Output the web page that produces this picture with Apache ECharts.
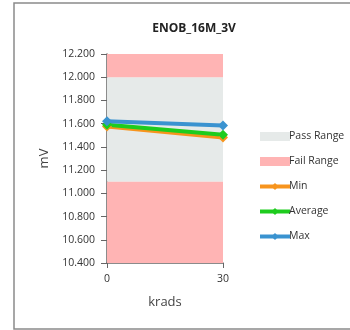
<!DOCTYPE html>
<html><head><meta charset="utf-8">
<script src="https://cdn.jsdelivr.net/npm/echarts@6/dist/echarts.min.js"></script>
<style>html,body{margin:0;padding:0;background:#fff}#c{width:350px;height:330px}</style>
</head><body><div id="c"></div>
<script>
var xValues = [0, 30];
var minVals = [11.575, 11.48];
var avgVals = [11.59, 11.505];
var maxVals = [11.62, 11.585];
var passBand = [11.1, 12.0];
var failBands = [[12.0, 12.2], [10.4, 11.1]];
var yTicks = {min: 10.4, max: 12.2, step: 0.2};

function pts(v){ return xValues.map(function(x,i){ return [x, v[i]]; }); }
var font = '"Open Sans", "Noto Sans", sans-serif';
var chart = echarts.init(document.getElementById('c'));
function lineSeries(name, data, color){
  return {name: name, type: 'line', data: pts(data), symbol: 'diamond', symbolSize: 10,
    lineStyle: {color: color, width: 4}, itemStyle: {color: color}, z: 5};
}
chart.setOption({
  animation: false,
  graphic: [{type: 'rect', shape: {x: 14, y: 3, width: 340, height: 326},
    style: {fill: 'none', stroke: '#8a8a8a', lineWidth: 1.5}, z: -10}],
  title: {text: 'ENOB_16M_3V', left: 189, top: 18, textAlign: 'center',
    textStyle: {fontSize: 12, fontWeight: 'bold', color: '#222', fontFamily: font}},
  grid: {left: 107, right: 127, top: 54, bottom: 67},
  xAxis: {type: 'value', min: xValues[0], max: xValues[1], interval: 30,
    name: 'krads', nameLocation: 'middle', nameGap: 33,
    nameTextStyle: {fontSize: 13, color: '#444', fontFamily: font},
    axisLine: {lineStyle: {color: '#666', width: 1.5}},
    axisTick: {show: true, length: 5, lineStyle: {color: '#666'}},
    splitLine: {show: false},
    axisLabel: {fontSize: 10.5, color: '#333', margin: 11, fontFamily: font}},
  yAxis: {type: 'value', min: yTicks.min, max: yTicks.max, interval: yTicks.step,
    name: 'mV', nameLocation: 'middle', nameGap: 56, nameRotate: 90,
    nameTextStyle: {fontSize: 13, color: '#444', fontFamily: font},
    axisLine: {show: true, lineStyle: {color: '#666', width: 1.5}},
    axisTick: {show: true, length: 6, lineStyle: {color: '#666'}},
    splitLine: {show: false},
    axisLabel: {fontSize: 10.5, color: '#333', margin: 12, fontFamily: font,
      formatter: function(v){ return v.toFixed(3); }}},
  legend: {orient: 'vertical', left: 253, top: 126, itemWidth: 30, itemHeight: 9, itemGap: 14,
    textStyle: {fontSize: 10.5, color: '#333', fontFamily: font, padding: [0,0,0,-6]},
    data: [
      {name: 'Pass Range', icon: 'rect'},
      {name: 'Fail Range', icon: 'rect'},
      {name: 'Min', lineStyle: {width: 4}},
      {name: 'Average', lineStyle: {width: 4}},
      {name: 'Max', lineStyle: {width: 4}}]},
  series: [
    {name: 'Pass Range', type: 'line', data: [], itemStyle: {color: '#E6EAE9'}, z: 1,
      markArea: {silent: true, itemStyle: {color: '#E6EAE9'},
        data: [[{xAxis: xValues[0], yAxis: passBand[0]}, {xAxis: xValues[1], yAxis: passBand[1]}]]}},
    {name: 'Fail Range', type: 'line', data: [], itemStyle: {color: '#FFB4B4'}, z: 1,
      markArea: {silent: true, itemStyle: {color: '#FFB4B4'},
        data: failBands.map(function(b){ return [{xAxis: xValues[0], yAxis: b[0]}, {xAxis: xValues[1], yAxis: b[1]}]; })}},
    lineSeries('Min', minVals, '#F7941D'),
    lineSeries('Average', avgVals, '#1ECC1E'),
    lineSeries('Max', maxVals, '#3A93D0')
  ]
});
</script></body></html>
